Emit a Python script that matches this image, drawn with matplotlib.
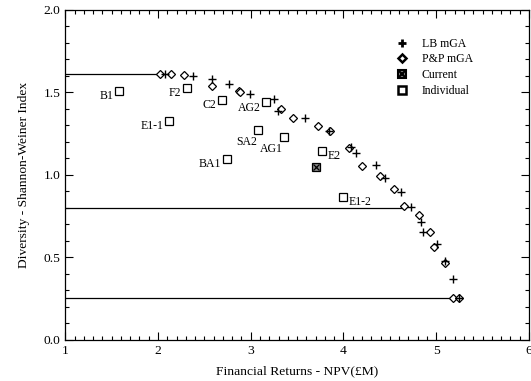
import matplotlib
matplotlib.use('Agg')
import matplotlib.pyplot as plt
from matplotlib.ticker import MultipleLocator

plt.rcParams['font.family'] = ['Liberation Serif', 'DejaVu Serif']
plt.rcParams['font.size'] = 9.7

# LB mGA (pluses)
lb_x = [2.08, 2.38, 2.58, 2.77, 2.99, 3.25, 3.29, 3.58, 3.84, 4.08, 4.14,
        4.35, 4.45, 4.62, 4.73, 4.84, 4.86, 5.01, 5.10, 5.18, 5.25]
lb_y = [1.612, 1.60, 1.58, 1.55, 1.49, 1.46, 1.39, 1.343, 1.268, 1.17, 1.13,
        1.059, 0.982, 0.899, 0.804, 0.717, 0.655, 0.582, 0.48, 0.37, 0.255]

# P&P mGA (diamonds)
pp_x = [2.02, 2.14, 2.28, 2.58, 2.87, 2.88, 3.33, 3.46, 3.73, 3.86, 4.06,
        4.20, 4.39, 4.55, 4.65, 4.81, 4.93, 4.98, 5.10, 5.18, 5.25]
pp_y = [1.612, 1.612, 1.606, 1.54, 1.509, 1.50, 1.40, 1.347, 1.299, 1.268, 1.162,
        1.056, 0.994, 0.913, 0.812, 0.758, 0.656, 0.564, 0.467, 0.255, 0.255]

# Current
cur_x = [3.70]
cur_y = [1.05]

# Individual solutions
ind_names = ['B1', 'F2', 'E1-1', 'C2', 'AG2', 'SA2', 'AG1', 'BA1', 'E2', 'E1-2']
ind_x = [1.58, 2.31, 2.12, 2.69, 3.17, 3.08, 3.36, 2.74, 3.77, 4.00]
ind_y = [1.511, 1.527, 1.329, 1.455, 1.44, 1.273, 1.232, 1.099, 1.147, 0.868]
# label offsets in points (dx, dy) and alignment
ind_off = [(-4, -4, 'right'), (-4, -4, 'right'), (-4, -4, 'right'), (-4, -4, 'right'),
           (-4, -4, 'right'), (-1, -9, 'right'), (-1, -9, 'right'), (-4, -4, 'right'),
           (4, -4, 'left'), (4, -4, 'left')]

# horizontal reference lines: (y, x_end)
hlines_y = [1.612, 0.80, 0.255]
hlines_xend = [2.02, 4.63, 5.24]

fig = plt.figure(figsize=(5.31, 3.81), dpi=100)
ax = fig.add_axes([0.123, 0.108, 0.873, 0.866])

for yv, xe in zip(hlines_y, hlines_xend):
    ax.plot([1, xe], [yv, yv], color='black', lw=0.9, zorder=1)

lb = ax.plot(lb_x, lb_y, '+', color='black', ms=5.5, mew=1.0, zorder=3)[0]
pp = ax.plot(pp_x, pp_y, 'D', mfc='white', mec='black', ms=3.6, mew=0.9, zorder=2)[0]
cs = ax.plot(cur_x, cur_y, 's', mfc='#888888', mec='black', ms=5.5, mew=0.9, zorder=2)[0]
cx = ax.plot(cur_x, cur_y, 'x', color='black', ms=4.5, mew=0.9, zorder=3)[0]
ind = ax.plot(ind_x, ind_y, 's', mfc='white', mec='black', ms=6, mew=0.9, zorder=2)[0]

for name, xv, yv, (dx, dy, ha) in zip(ind_names, ind_x, ind_y, ind_off):
    ax.annotate(name, (xv, yv), xytext=(dx, dy), textcoords='offset points',
                ha=ha, va='center', fontsize=8.5)

ax.set_xlim(1, 6)
ax.set_ylim(0, 2.0)
ax.xaxis.set_major_locator(MultipleLocator(1))
ax.xaxis.set_minor_locator(MultipleLocator(0.1))
ax.yaxis.set_major_locator(MultipleLocator(0.5))
ax.yaxis.set_minor_locator(MultipleLocator(0.1))
ax.yaxis.set_major_formatter(matplotlib.ticker.FormatStrFormatter('%.1f'))
ax.tick_params(which='both', direction='in', top=True, right=True, width=0.8)
ax.tick_params(which='major', length=6, labelsize=9.7)
ax.tick_params(which='minor', length=3)
for s in ax.spines.values():
    s.set_linewidth(0.9)

ax.set_xlabel('Financial Returns - NPV(£M)', fontsize=9.7, labelpad=6)
ax.set_ylabel('Diversity - Shannon-Weiner Index', fontsize=9.7, labelpad=10)

leg_lb = plt.Line2D([], [], ls='', marker='+', color='black', ms=6, mew=2)
leg_pp = plt.Line2D([], [], ls='', marker='D', mfc='white', mec='black', ms=4, mew=1.8)
leg_cs = plt.Line2D([], [], ls='', marker='s', mfc='#888888', mec='black', ms=5.5, mew=1.5)
leg_cx = plt.Line2D([], [], ls='', marker='x', color='black', ms=4.5, mew=1.5)
leg_in = plt.Line2D([], [], ls='', marker='s', mfc='white', mec='black', ms=6, mew=1.8)
ax.legend([leg_lb, leg_pp, (leg_cs, leg_cx), leg_in],
          ['LB mGA', 'P&P mGA', 'Current', 'Individual'],
          loc='upper right', bbox_to_anchor=(0.902, 0.948), frameon=False,
          fontsize=8.5, handlelength=1.0, handletextpad=1.2, labelspacing=0.32)

fig.savefig('out.png', dpi=100)
